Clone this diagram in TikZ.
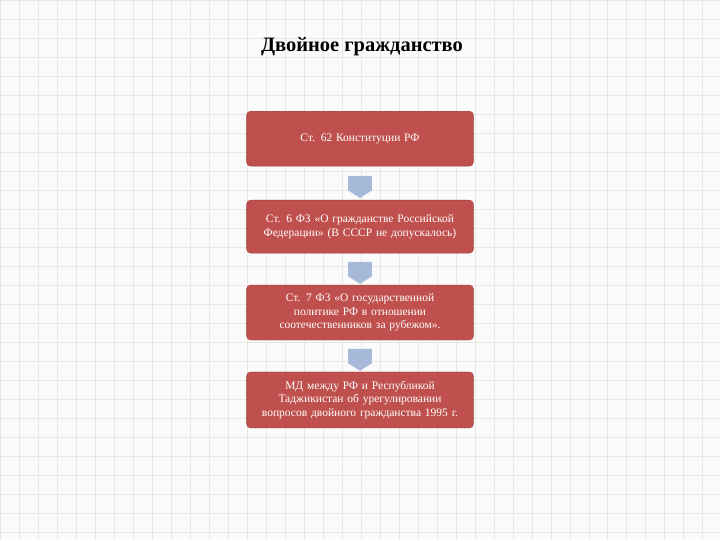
\documentclass[tikz,border=0pt]{standalone}
\usepackage{fontspec}
\setmainfont{Liberation Serif}
\usetikzlibrary{shapes.arrows,calc}
\definecolor{boxred}{HTML}{C0504D}
\definecolor{arrblue}{HTML}{A7B9D9}
\definecolor{gridc}{HTML}{E8E8E4}
\begin{document}
\begin{tikzpicture}[x=1pt,y=-1pt,
  stepbox/.style={rectangle,rounded corners=4pt,fill=boxred,draw=boxred!80!black,line width=0.4pt,text=white,minimum width=227pt,align=center,text width=222pt,inner xsep=2pt,font=\fontsize{11.5}{13.5}\selectfont},
  downarr/.style={single arrow,shape border rotate=270,fill=arrblue,draw=none,minimum width=24pt,single arrow head extend=0pt,single arrow tip angle=115,minimum height=22pt,inner sep=0pt}]
\fill[white!97!gray] (0,0) rectangle (720,540);
\draw[gridc,line width=0.6pt,step=19pt] (0,0) grid (720,540);
\useasboundingbox (0,0) rectangle (720,540);
\node (title) at (362,46) {\fontsize{20.5}{24}\selectfont\bfseries Двойное гражданство};
\node[stepbox,minimum height=55pt] (b1) at (360,138.5) {Ст. 62 Конституции РФ};
\node[stepbox,minimum height=53pt] (b2) at (360,226.5) {Ст. 6 ФЗ «О гражданстве Российской Федерации» (В СССР не допускалось)};
\node[stepbox,minimum height=55pt] (b3) at (360,312.5) {Ст. 7 ФЗ «О государственной политике РФ в отношении соотечественников за рубежом».};
\node[stepbox,minimum height=56pt] (b4) at (360,400) {МД между РФ и Республикой Таджикистан об урегулировании вопросов двойного гражданства 1995 г.};
\node[downarr] (a1) at ($(b1.south)!0.5!(b2.north)$) {};
\node[downarr] (a2) at ($(b2.south)!0.5!(b3.north)$) {};
\node[downarr] (a3) at ($(b3.south)!0.5!(b4.north)$) {};
\end{tikzpicture}
\end{document}
